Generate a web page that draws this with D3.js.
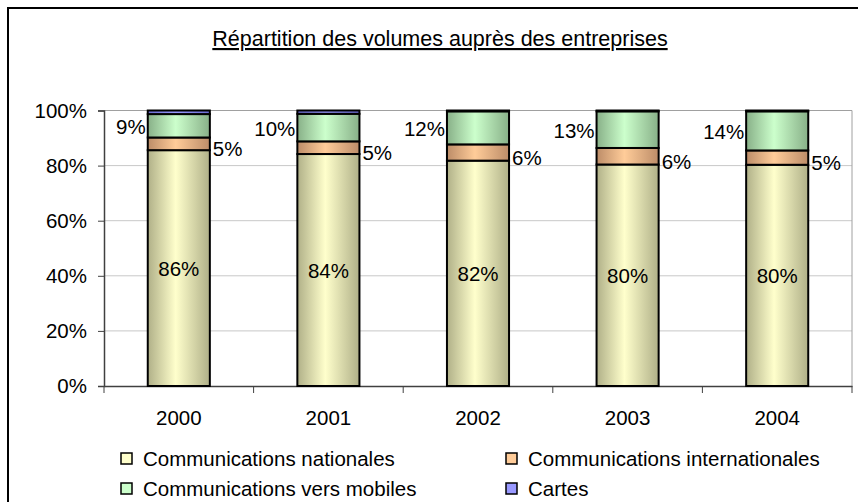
<!DOCTYPE html>
<html><head><meta charset="utf-8">
<script src="https://cdn.jsdelivr.net/npm/d3@7"></script>
<style>
html,body{margin:0;padding:0;background:#fff;}
svg{display:block;font-family:"Liberation Sans",Arial,sans-serif;}
</style></head>
<body>
<svg id="c" width="858" height="502"></svg>
<script>
const categories = ["2000","2001","2002","2003","2004"];
const nationales = [85.6, 84.2, 81.8, 80.4, 80.3];
const internationales = [4.6, 4.6, 5.9, 6.0, 5.2];
const mobiles = [8.5, 10.0, 12.0, 13.3, 14.2];
const cartes = [1.3, 1.2, 0.3, 0.3, 0.3];
const seriesNames = ["Communications nationales","Communications internationales","Communications vers mobiles","Cartes"];
const yTicks = [0, 0.2, 0.4, 0.6, 0.8, 1.0];
const title = "Répartition des volumes auprès des entreprises";

const keys = ["nat","intl","mob","cartes"];
const table = categories.map((c,i)=>({cat:c, nat:nationales[i], intl:internationales[i], mob:mobiles[i], cartes:cartes[i]}));
const stack = d3.stack().keys(keys).offset(d3.stackOffsetExpand)(table);

const colors = {
  nat:{edge:"#b0b088", mid:"#ffffcc", flat:"#ffffcc"},
  intl:{edge:"#bc8c68", mid:"#ffcc99", flat:"#ffcc99"},
  mob:{edge:"#88b088", mid:"#ccffcc", flat:"#ccffcc"},
  cartes:{edge:"#6a6ad0", mid:"#9999ff", flat:"#9999ff"}
};

const svg = d3.select("#c");
const defs = svg.append("defs");
keys.forEach(k=>{
  const g = defs.append("linearGradient").attr("id","g_"+k).attr("x1","0").attr("x2","1").attr("y1","0").attr("y2","0");
  g.append("stop").attr("offset","0").attr("stop-color",colors[k].edge);
  g.append("stop").attr("offset","0.45").attr("stop-color",colors[k].mid);
  g.append("stop").attr("offset","1").attr("stop-color",colors[k].edge);
});

// outer frame
svg.append("rect").attr("x",8).attr("y",8).attr("width",870).attr("height",520)
  .attr("fill","none").attr("stroke","#000").attr("stroke-width",2);

// title
svg.append("text").attr("x",440).attr("y",46).attr("text-anchor","middle")
  .attr("font-size",21.5).attr("text-decoration","underline").attr("fill","#000").text(title);

const x = d3.scaleBand().domain(categories).range([104,852]).paddingInner(0.585).paddingOuter(0.2925);
const y = d3.scaleLinear().domain([0,1]).range([386,110.5]);

// gridlines
svg.append("g").selectAll("line").data(yTicks.filter(t=>t>0)).join("line")
  .attr("x1",104).attr("x2",852).attr("y1",d=>y(d)).attr("y2",d=>y(d))
  .attr("stroke",d=>d===1?"#a0a0a0":"#c8c8c8").attr("stroke-width",1);
// plot right border
svg.append("line").attr("x1",852).attr("x2",852).attr("y1",y(1)).attr("y2",y(0))
  .attr("stroke","#a0a0a0").attr("stroke-width",1);

// y axis
const yAxis = svg.append("g").attr("transform","translate(104,0)")
  .call(d3.axisLeft(y).tickValues(yTicks).tickFormat(d3.format(".0%")).tickSize(6).tickPadding(11));
yAxis.select(".domain").attr("stroke","#404040").attr("stroke-width",1.5);
yAxis.selectAll(".tick line").attr("stroke","#404040");
yAxis.selectAll("text").attr("font-size",20.5).attr("fill","#000").attr("font-family","Liberation Sans, Arial, sans-serif");

// x axis
const xAxis = svg.append("g").attr("transform","translate(0,386)")
  .call(d3.axisBottom(x).tickSize(0).tickPadding(24));
xAxis.select(".domain").attr("stroke","#404040").attr("stroke-width",1.5);
xAxis.selectAll("text").attr("font-size",20.5).attr("fill","#000").attr("font-family","Liberation Sans, Arial, sans-serif");
// category boundary ticks
const edges = [104].concat(categories.map(c=>x(c)+x.bandwidth()+x.step()*x.paddingInner()/2));
svg.append("g").selectAll("line").data(edges).join("line")
  .attr("x1",d=>d).attr("x2",d=>d).attr("y1",386).attr("y2",393)
  .attr("stroke","#404040").attr("stroke-width",1);

// bars
const gBars = svg.append("g");
stack.forEach(s=>{
  gBars.append("g").selectAll("rect").data(s).join("rect")
    .attr("x",d=>x(d.data.cat)).attr("width",x.bandwidth())
    .attr("y",d=>y(d[1])).attr("height",d=>y(d[0])-y(d[1]))
    .attr("fill","url(#g_"+s.key+")").attr("stroke","#000").attr("stroke-width",2);
});

// labels
const fmt = v=>d3.format(".0f")(v)+"%";
const lab = svg.append("g").attr("font-size",20.5).attr("fill","#000");
const sNat = stack[0], sIntl = stack[1], sMob = stack[2];
lab.selectAll(".ln").data(sNat).join("text").attr("class","ln")
  .attr("x",d=>x(d.data.cat)+x.bandwidth()/2).attr("y",d=>(y(d[0])+y(d[1]))/2)
  .attr("text-anchor","middle").attr("dominant-baseline","central").text(d=>fmt(d.data.nat));
lab.selectAll(".li").data(sIntl).join("text").attr("class","li")
  .attr("x",d=>x(d.data.cat)+x.bandwidth()+3).attr("y",d=>(y(d[0])+y(d[1]))/2+5)
  .attr("text-anchor","start").attr("dominant-baseline","central").text(d=>fmt(d.data.intl));
lab.selectAll(".lm").data(sMob).join("text").attr("class","lm")
  .attr("x",d=>x(d.data.cat)-2).attr("y",d=>(y(d[0])+y(d[1]))/2+1)
  .attr("text-anchor","end").attr("dominant-baseline","central").text(d=>fmt(d.data.mob));

// legend
const legPos = [{x:121,y:453},{x:506,y:453},{x:121,y:483},{x:506,y:483}];
const leg = svg.append("g");
keys.forEach((k,i)=>{
  const p = legPos[i];
  leg.append("rect").attr("x",p.x).attr("y",p.y).attr("width",11).attr("height",11)
    .attr("fill",colors[k].flat).attr("stroke","#000").attr("stroke-width",1.5);
  leg.append("text").attr("x",p.x+22).attr("y",p.y+5.5).attr("dominant-baseline","central")
    .attr("font-size",20.5).attr("fill","#000").text(seriesNames[i]);
});
</script>
</body></html>
